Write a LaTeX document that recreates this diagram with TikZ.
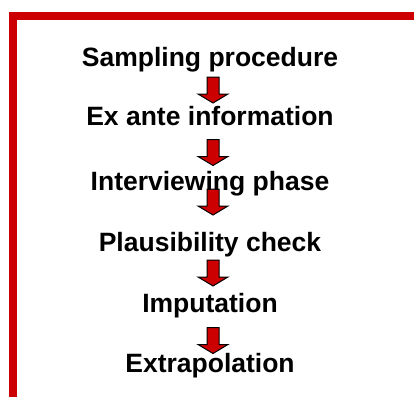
\documentclass[tikz,border=0pt]{standalone}
\usepackage{fontspec}
\setmainfont{Liberation Sans}
\usepackage{tikz}
\definecolor{frame red}{HTML}{CC0000}

\begin{document}
\begin{tikzpicture}[x=1pt,y=-1pt,
	steptext/.style={anchor=base,inner sep=0pt,font=\fontsize{26.5}{30}\selectfont\bfseries},
	blockarrow/.style={fill=frame red,draw=black,line width=1pt,line join=miter}]
\useasboundingbox (0,0) rectangle (414,396);
\draw[frame red,line width=8pt] (13.4,399.6) -- (13.4,16.5) -- (430,16.5);
\foreach \y in {90,152.5,202,273,340.5}
	\filldraw[blockarrow] (207,{\y-13}) -- (219,{\y-13}) -- (219,{\y+4}) -- (228,{\y+4}) -- (213,{\y+13}) -- (198,{\y+4}) -- (207,{\y+4}) -- cycle;
\node[steptext] (sampling) at (210,66) {Sampling procedure};
\node[steptext] (exante) at (210,125) {Ex ante information};
\node[steptext] (interview) at (210,190.7) {Interviewing phase};
\node[steptext] (plausib) at (210,251) {Plausibility check};
\node[steptext] (imput) at (210,312) {Imputation};
\node[steptext] (extrapol) at (210,372) {Extrapolation};
\end{tikzpicture}
\end{document}
